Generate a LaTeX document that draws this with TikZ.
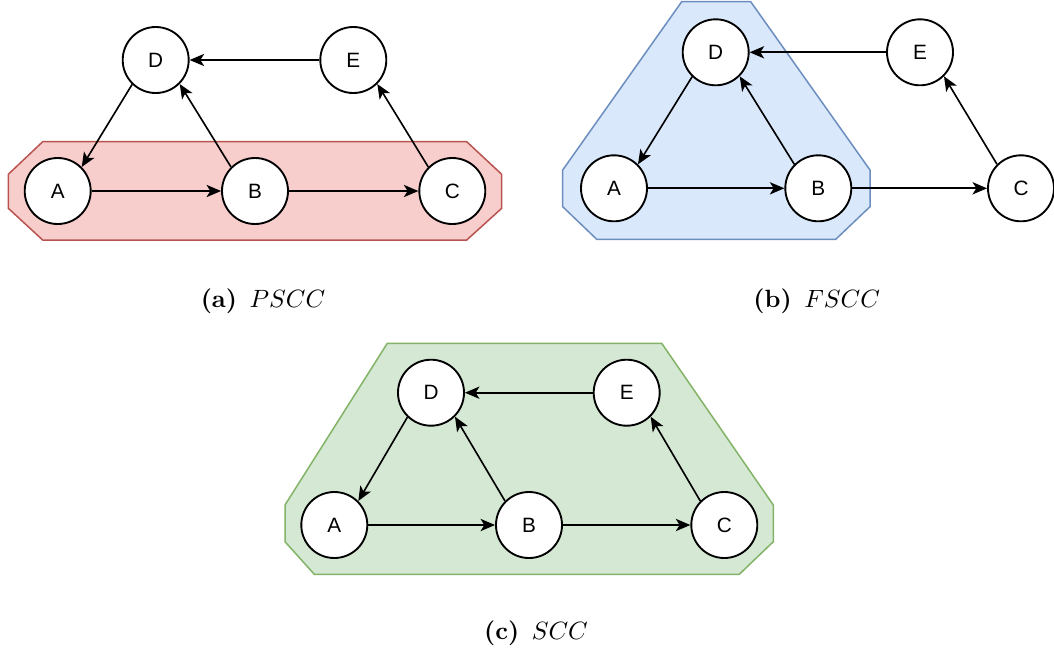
\documentclass[tikz,border=0pt]{standalone}
\usepackage{fontspec}
\newfontfamily\nodefont{Liberation Sans}
\usetikzlibrary{arrows.meta}
\definecolor{redfill}{HTML}{F8CECC}
\definecolor{redline}{HTML}{B85450}
\definecolor{bluefill}{HTML}{DAE8FC}
\definecolor{blueline}{HTML}{6C8EBF}
\definecolor{greenfill}{HTML}{D5E8D4}
\definecolor{greenline}{HTML}{82B366}
\tikzset{
  vertex/.style={circle, draw=black, fill=white, line width=0.75pt, minimum size=26.4pt, inner sep=0pt, font=\fontsize{8.3pt}{9.5pt}\selectfont\nodefont},
  edge/.style={line width=0.65pt, -{Stealth[length=5.8pt, width=4.9pt, inset=1.5pt]}},
  region/.style={line width=0.6pt},
  captext/.style={font=\normalsize, inner sep=0pt}
}
\begin{document}
\begin{tikzpicture}[x=0.4pt,y=-0.4pt]
\useasboundingbox (0,0) rectangle (1054,655);
% ---------- (a) PSCC ----------
\draw[region, fill=redfill, draw=redline] (42.7,141.7) -- (466.7,141.7) -- (501.7,174.3) -- (501.7,208.3) -- (466.7,240) -- (42.7,240) -- (8.3,208.3) -- (8.3,174.3) -- cycle;
\node[vertex] (aD) at (155.7,60) {D};
\node[vertex] (aE) at (353.3,60) {E};
\node[vertex] (aA) at (57.7,191) {A};
\node[vertex] (aB) at (255,191) {B};
\node[vertex] (aC) at (452.3,191) {C};
\draw[edge] (aE) -- (aD);
\draw[edge] (aD.226) -- (aA.45);
\draw[edge] (aB.135) -- (aD.315);
\draw[edge] (aA) -- (aB);
\draw[edge] (aB) -- (aC);
\draw[edge] (aC.135) -- (aE.315);
\node[captext] (capa) at (263,301) {\textbf{(a)}\enspace$PSCC$};
% ---------- (b) FSCC ----------
\draw[region, fill=bluefill, draw=blueline] (681.7,1.7) -- (750.7,1.7) -- (870,170) -- (870,206.7) -- (835.7,239.3) -- (596.7,239.3) -- (562.7,206.7) -- (562.7,170) -- cycle;
\node[vertex] (bD) at (715.7,52.3) {D};
\node[vertex] (bE) at (920,52.3) {E};
\node[vertex] (bA) at (614,188.3) {A};
\node[vertex] (bB) at (818.3,188.3) {B};
\node[vertex] (bC) at (1021,188.3) {C};
\draw[edge] (bE) -- (bD);
\draw[edge] (bD.226) -- (bA.45);
\draw[edge] (bB.135) -- (bD.315);
\draw[edge] (bA) -- (bB);
\draw[edge] (bB) -- (bC);
\draw[edge] (bC.135) -- (bE.315);
\node[captext] (capb) at (816.7,301) {\textbf{(b)}\enspace$FSCC$};
% ---------- (c) SCC ----------
\draw[region, fill=greenfill, draw=greenline] (387.3,343.3) -- (661.7,343.3) -- (773.3,505) -- (773.3,541.7) -- (739.3,574.3) -- (314.3,574.3) -- (285,541.7) -- (285,505) -- cycle;
\node[vertex] (cD) at (431,392.7) {D};
\node[vertex] (cE) at (626.7,392.7) {E};
\node[vertex] (cA) at (334.3,525) {A};
\node[vertex] (cB) at (529,525) {B};
\node[vertex] (cC) at (724.3,525) {C};
\draw[edge] (cE) -- (cD);
\draw[edge] (cD.226) -- (cA.45);
\draw[edge] (cB.135) -- (cD.315);
\draw[edge] (cA) -- (cB);
\draw[edge] (cB) -- (cC);
\draw[edge] (cC.135) -- (cE.315);
\node[captext] (capc) at (536,633) {\textbf{(c)}\enspace$SCC$};
\end{tikzpicture}
\end{document}
